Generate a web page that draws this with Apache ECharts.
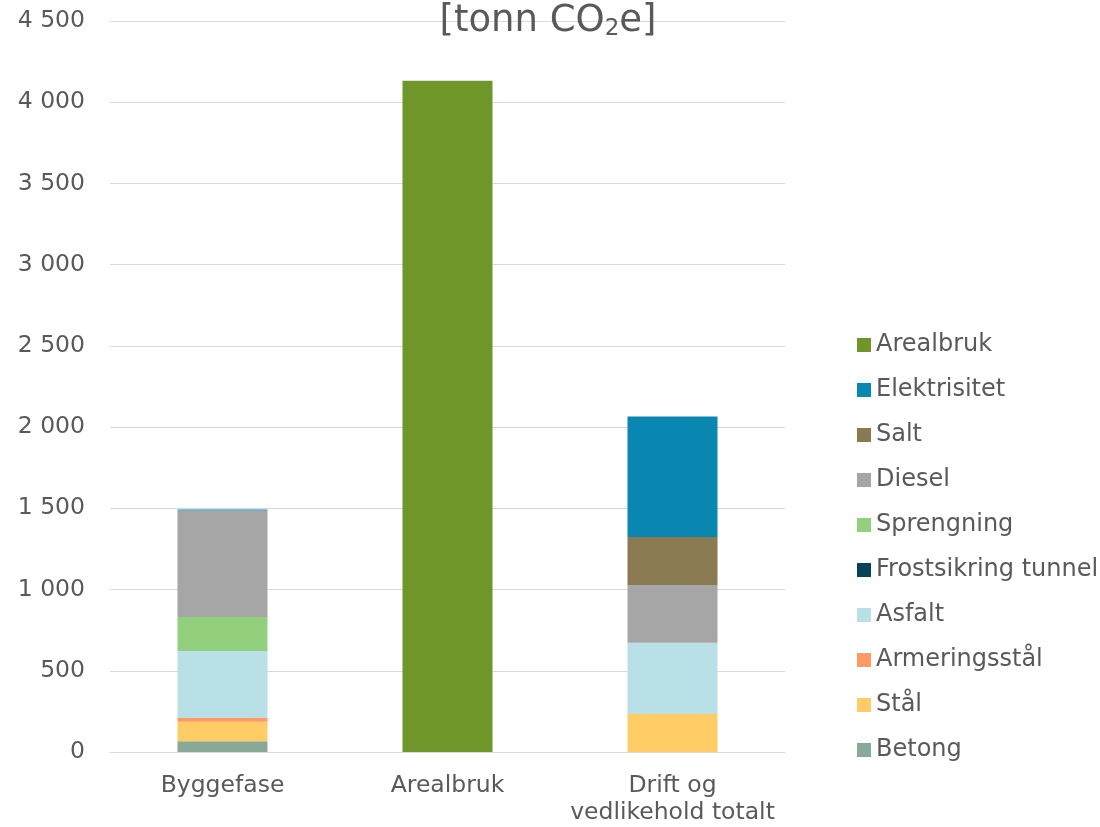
<!DOCTYPE html>
<html>
<head>
<meta charset="utf-8">
<script src="https://cdn.jsdelivr.net/npm/echarts@6/dist/echarts.min.js"></script>
<style>html,body{margin:0;padding:0;background:#fff;}#c{width:1100px;height:827px;}</style>
</head>
<body>
<div id="c"></div>
<script>
const categories = ['Byggefase', 'Arealbruk', 'Drift og\nvedlikehold totalt'];
const seriesNames = ['Betong', 'Stål', 'Armeringsstål', 'Asfalt', 'Frostsikring tunnel', 'Sprengning', 'Diesel', 'Salt', 'Elektrisitet', 'Arealbruk'];
const betong = [66, 0, 0];
const staal = [120, 0, 234];
const armeringsstaal = [23, 0, 0];
const asfalt = [413, 0, 439];
const frostsikring = [0, 0, 0];
const sprengning = [209, 0, 0];
const diesel = [655, 0, 355];
const salt = [0, 0, 296];
const elektrisitet = [7, 0, 741];
const arealbruk = [0, 4132, 0];
const seriesValues = [betong, staal, armeringsstaal, asfalt, frostsikring, sprengning, diesel, salt, elektrisitet, arealbruk];
const colors = ['#88a898', '#ffcc66', '#ff9966', '#b9e0e7', '#074358', '#92d07e', '#a6a6a6', '#8a7a52', '#0a87b1', '#6e9629'];
const legendOrder = ['Arealbruk', 'Elektrisitet', 'Salt', 'Diesel', 'Sprengning', 'Frostsikring tunnel', 'Asfalt', 'Armeringsstål', 'Stål', 'Betong'];

const FONT = 'DejaVu Sans';
const chart = echarts.init(document.getElementById('c'), null, {renderer: 'canvas'});
chart.setOption({
  animation: false,
  title: {
    text: '[tonn CO{sub|2}e]',
    left: 548, textAlign: 'center', top: 1, padding: 0,
    textStyle: {
      fontFamily: FONT, fontSize: 37, fontWeight: 'normal', color: '#595959',
      rich: { sub: { fontFamily: FONT, fontSize: 23, color: '#595959', verticalAlign: 'bottom', padding: [17, 0, 0, 0] } }
    }
  },
  legend: {
    orient: 'vertical', left: 852, top: 327,
    data: legendOrder,
    itemWidth: 14, itemHeight: 14, itemGap: 19, icon: 'rect',
    textStyle: { fontFamily: FONT, fontSize: 24, color: '#595959', lineHeight: 26 }
  },
  grid: { left: 110, right: 315, top: 21, bottom: 75 },
  xAxis: {
    type: 'category', data: categories,
    axisLine: { show: true, lineStyle: { color: '#d9d9d9', width: 1 } },
    axisTick: { show: false },
    axisLabel: { interval: 0, fontFamily: FONT, fontSize: 23.5, color: '#595959', lineHeight: 27, margin: 20 }
  },
  yAxis: {
    type: 'value', min: 0, max: 4500, interval: 500,
    axisLine: { show: false }, axisTick: { show: false },
    splitLine: { lineStyle: { color: '#d9d9d9', width: 1 } },
    axisLabel: {
      fontFamily: FONT, fontSize: 23.5, color: '#595959', margin: 25,
      formatter: v => String(v).replace(/\B(?=(\d{3})+(?!\d))/g, ' ')
    }
  },
  series: seriesNames.map((n, i) => ({
    name: n, type: 'bar', stack: 'total', barWidth: '40%',
    itemStyle: { color: colors[i] },
    data: seriesValues[i]
  }))
});
</script>
</body>
</html>
